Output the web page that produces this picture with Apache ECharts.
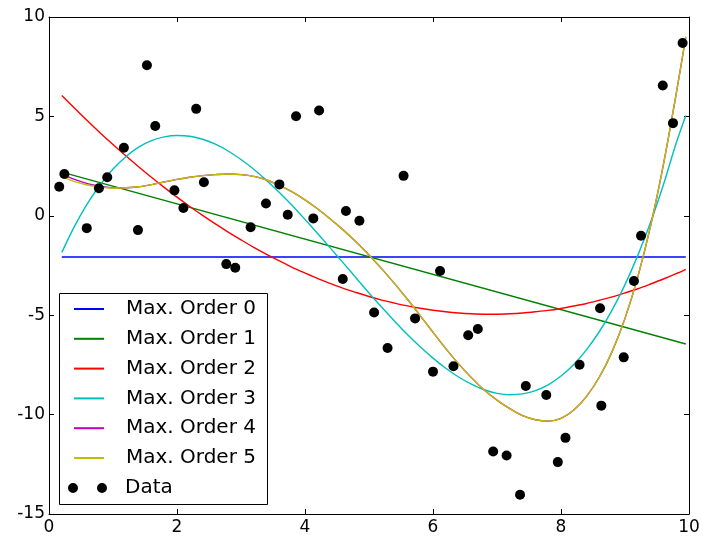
<!DOCTYPE html>
<html>
<head>
<meta charset="utf-8">
<script src="https://cdn.jsdelivr.net/npm/echarts@6/dist/echarts.min.js"></script>
<style>
html, body { margin: 0; padding: 0; background: #fff; }
#chart { width: 703px; height: 536px; }
</style>
</head>
<body>
<div id="chart"></div>
<script>
// straight fits only need their two ends
const lineX = [0.2, 9.95];
const order0 = [-2.07, -2.07];
const order1 = [2.20, -6.45];

const fitX = [0.2, 0.4, 0.6, 0.8, 1.0, 1.2, 1.4, 1.6, 1.8, 2.0,
    2.2, 2.4, 2.6, 2.8, 3.0, 3.2, 3.4, 3.6, 3.8, 4.0,
    4.2, 4.4, 4.6, 4.8, 5.0, 5.2, 5.4, 5.6, 5.8, 6.0,
    6.2, 6.4, 6.6, 6.8, 7.0, 7.2, 7.4, 7.6, 7.8, 8.0,
    8.2, 8.4, 8.6, 8.8, 9.0, 9.2, 9.4, 9.6, 9.8, 9.95];
const order2 = [6.05, 5.41, 4.78, 4.17, 3.59, 3.02, 2.47, 1.94, 1.43, 0.94,
    0.47, 0.02, -0.41, -0.82, -1.21, -1.59, -1.94, -2.27, -2.59, -2.88,
    -3.16, -3.41, -3.65, -3.86, -4.06, -4.24, -4.39, -4.53, -4.65, -4.75,
    -4.83, -4.89, -4.93, -4.95, -4.95, -4.93, -4.89, -4.83, -4.76, -4.66,
    -4.54, -4.41, -4.25, -4.08, -3.88, -3.67, -3.43, -3.18, -2.91, -2.69];
const order3 = [-1.84, -0.52, 0.61, 1.56, 2.35, 2.97, 3.45, 3.78, 3.97, 4.04,
    4.00, 3.85, 3.60, 3.26, 2.83, 2.34, 1.78, 1.17, 0.52, -0.18,
    -0.90, -1.64, -2.38, -3.13, -3.88, -4.60, -5.30, -5.97, -6.59, -7.16,
    -7.67, -8.11, -8.47, -8.75, -8.93, -9.00, -8.96, -8.79, -8.50, -8.06,
    -7.48, -6.73, -5.82, -4.73, -3.46, -1.99, -0.33, 1.56, 3.66, 5.05];
const order4 = [2.10, 1.83, 1.62, 1.49, 1.41, 1.41, 1.46, 1.57, 1.70, 1.83,
    1.94, 2.02, 2.07, 2.10, 2.07, 1.98, 1.80, 1.53, 1.20, 0.80,
    0.34, -0.17, -0.72, -1.32, -1.97, -2.67, -3.41, -4.20, -5.02, -5.86,
    -6.68, -7.45, -8.14, -8.76, -9.27, -9.70, -10.05, -10.26, -10.33, -10.19,
    -9.77, -9.08, -8.11, -6.82, -5.16, -3.07, -0.51, 2.57, 6.13, 9.00];
const order5 = [1.97, 1.72, 1.55, 1.45, 1.40, 1.41, 1.46, 1.57, 1.70, 1.83,
    1.94, 2.02, 2.07, 2.10, 2.07, 1.98, 1.80, 1.53, 1.20, 0.80,
    0.34, -0.17, -0.72, -1.32, -1.97, -2.67, -3.41, -4.20, -5.02, -5.86,
    -6.68, -7.45, -8.14, -8.76, -9.27, -9.70, -10.05, -10.26, -10.33, -10.19,
    -9.77, -9.08, -8.11, -6.82, -5.16, -3.07, -0.51, 2.57, 6.13, 9.00];

// scattered samples
const dataX = [0.16, 0.24, 0.59, 0.78, 0.91, 1.17, 1.39, 1.53, 1.66, 1.96,
    2.10, 2.30, 2.42, 2.77, 2.91, 3.15, 3.39, 3.60, 3.73, 3.86,
    4.13, 4.22, 4.59, 4.64, 4.85, 5.08, 5.29, 5.54, 5.72, 6.00,
    6.11, 6.32, 6.55, 6.70, 6.94, 7.15, 7.36, 7.45, 7.77, 7.95,
    8.07, 8.29, 8.61, 8.63, 8.98, 9.14, 9.25, 9.59, 9.75, 9.90];
const dataY = [1.46, 2.10, -0.62, 1.39, 1.94, 3.42, -0.72, 7.57, 4.52, 1.28,
    0.39, 5.38, 1.69, -2.43, -2.61, -0.58, 0.62, 1.58, 0.05, 5.01,
    -0.13, 5.30, -3.18, 0.24, -0.25, -4.86, -6.65, 2.01, -5.16, -7.84,
    -2.78, -7.57, -6.01, -5.69, -11.86, -12.06, -14.03, -8.56, -9.01, -12.39,
    -11.17, -7.49, -4.65, -9.55, -7.12, -3.28, -1.00, 6.55, 4.66, 8.69];

const names = ['Max. Order 0', 'Max. Order 1', 'Max. Order 2', 'Max. Order 3', 'Max. Order 4', 'Max. Order 5'];
const colors = ['#0000ff', '#008000', '#ff0000', '#00bfbf', '#bf00bf', '#bfbf00'];
const fits = [
    [lineX, order0], [lineX, order1], [fitX, order2],
    [fitX, order3], [fitX, order4], [fitX, order5]
];

const font = 'DejaVu Sans';
const chart = echarts.init(document.getElementById('chart'));

const tickStyle = { inside: true, length: 5, lineStyle: { color: '#000', width: 1 } };
const lineAxis = { show: true, onZero: false, lineStyle: { color: '#000', width: 1 } };

const series = fits.map(([xs, ys], i) => ({
    name: names[i],
    type: 'line',
    smooth: 0.3,
    symbol: 'none',
    lineStyle: { color: colors[i], width: 1.4 },
    itemStyle: { color: colors[i] },
    z: 2,
    data: xs.map((x, j) => [x, ys[j]])
}));
series.push({
    name: 'Data',
    type: 'scatter',
    symbol: 'circle',
    symbolSize: 10,
    itemStyle: { color: '#000', opacity: 1 },
    z: 5,
    data: dataX.map((x, j) => [x, dataY[j]])
});

const option = {
    animation: false,
    backgroundColor: '#fff',
    grid: { left: 49, right: 14, top: 17, bottom: 22 },
    xAxis: [
        {
            type: 'value', min: 0, max: 10, interval: 2, position: 'bottom',
            axisLine: lineAxis, axisTick: tickStyle, splitLine: { show: false },
            axisLabel: { color: '#000', fontFamily: font, fontSize: 17, margin: 5 }
        },
        {
            type: 'value', min: 0, max: 10, interval: 2, position: 'top',
            axisLine: lineAxis, axisTick: tickStyle, splitLine: { show: false },
            axisLabel: { show: false }
        }
    ],
    yAxis: [
        {
            type: 'value', min: -15, max: 10, interval: 5, position: 'left',
            axisLine: lineAxis, axisTick: tickStyle, splitLine: { show: false },
            axisLabel: { color: '#000', fontFamily: font, fontSize: 17, margin: 4 }
        },
        {
            type: 'value', min: -15, max: 10, interval: 5, position: 'right',
            axisLine: lineAxis, axisTick: tickStyle, splitLine: { show: false },
            axisLabel: { show: false }
        }
    ],
    graphic: [{
        type: 'rect',
        z: 10,
        shape: { x: 59.5, y: 293.5, width: 208, height: 211 },
        style: { fill: '#fff', stroke: '#000', lineWidth: 1 }
    }],
    legend: [
        {
            orient: 'vertical',
            left: 73,
            top: 299,
            padding: 0,
            itemWidth: 30,
            itemHeight: 10,
            itemGap: 9.8,
            selectedMode: false,
            z: 20,
            itemStyle: { opacity: 0 },
            data: names,
            textStyle: { fontFamily: font, fontSize: 20, color: '#000', lineHeight: 20, padding: [0, 0, 0, 17] }
        },
        {
            orient: 'vertical',
            left: 68,
            top: 478,
            padding: 0,
            itemWidth: 39,
            itemHeight: 10,
            selectedMode: false,
            z: 20,
            data: [{
                name: 'Data',
                icon: 'path://M0,5a5,5 0 1,0 10,0a5,5 0 1,0 -10,0zM29,5a5,5 0 1,0 10,0a5,5 0 1,0 -10,0z'
            }],
            textStyle: { fontFamily: font, fontSize: 20, color: '#000', lineHeight: 20, padding: [0, 0, 0, 13] }
        }
    ],
    series: series
};
chart.setOption(option);
</script>
</body>
</html>
